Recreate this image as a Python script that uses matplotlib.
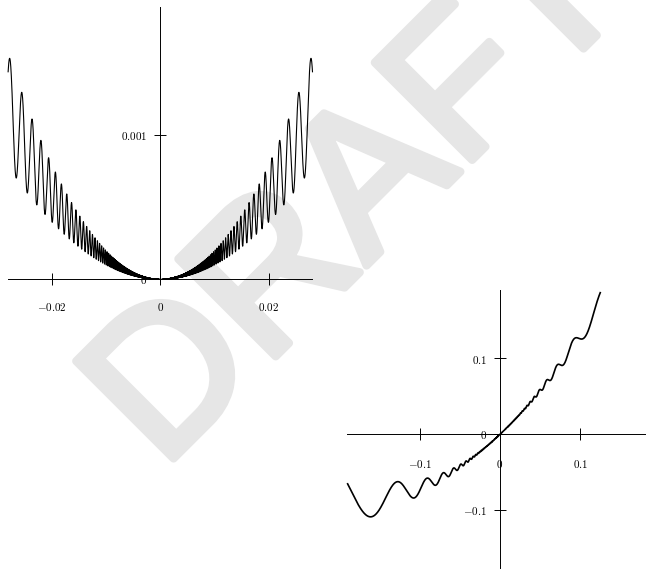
import numpy as np
import matplotlib
matplotlib.use("Agg")
import matplotlib.pyplot as plt
import matplotlib.patheffects as pe

plt.rcParams['mathtext.fontset'] = 'cm'

# --- left graph: f(x) = x^2 (1 + sin^2(1/x)) ---
x1_range = [-0.028, 0.028]
x1_limits = [-0.028, 0.028]
y1_limits = [0, 0.00189]
x1_ticks = [-0.02, 0, 0.02]
x1_labels = [r'$-0.02$', r'$0$', r'$0.02$']
y1_ticks = [0, 0.001]
y1_labels = [r'$0$', r'$0.001$']

# --- right graph: g(x) = x + 2x^2 + 2x^2 sin^2(1/x) ---
x2_range = [-0.19, 0.125]
x2_limits = [-0.1908, 0.182]
y2_limits = [-0.176, 0.19]
x2_ticks = [-0.1, 0, 0.1]
x2_labels = [r'$-0.1$', r'$0$', r'$0.1$']
y2_ticks = [-0.1, 0, 0.1]
y2_labels = [r'$-0.1$', r'$0$', r'$0.1$']


def f1(x):
    return x**2 * (1 + np.sin(1 / x)**2)


def f2(x):
    return x + 2 * x**2 + 2 * x**2 * np.sin(1 / x)**2


W, H = 646, 579
fig = plt.figure(figsize=(W / 100, H / 100), dpi=100)
fig.patch.set_facecolor('white')


def add_axes_px(origin, sx, sy, xlim, ylim):
    # origin in pixels (from top-left), sx/sy in pixels per data unit
    left = origin[0] + xlim[0] * sx
    right = origin[0] + xlim[1] * sx
    top = origin[1] - ylim[1] * sy
    bottom = origin[1] - ylim[0] * sy
    return fig.add_axes([left / W, 1 - bottom / H, (right - left) / W, (bottom - top) / H])


def style_axes(ax, xlim, ylim, xticks, xlabels, yticks, ylabels, xpad, ypad):
    ax.set_xlim(xlim)
    ax.set_ylim(ylim)
    ax.set_facecolor('none')
    ax.spines['top'].set_visible(False)
    ax.spines['right'].set_visible(False)
    ax.spines['left'].set_position(('data', 0))
    ax.spines['bottom'].set_position(('data', 0))
    for s in ['left', 'bottom']:
        ax.spines[s].set_linewidth(0.7)
    ax.set_xticks(xticks, xlabels)
    ax.set_yticks(yticks, ylabels)
    ax.tick_params(direction='inout', length=8.6, width=0.7, labelsize=8)
    ax.tick_params(axis='x', pad=xpad)
    ax.tick_params(axis='y', pad=ypad)


ax1 = add_axes_px((160.3, 279.3), 5435, 144000, x1_limits, y1_limits)
style_axes(ax1, x1_limits, y1_limits, x1_ticks, x1_labels, y1_ticks, y1_labels, 11, 5)
x1 = np.linspace(x1_range[0], x1_range[1], 400000)
ax1.plot(x1, f1(x1), color='black', lw=0.8, clip_on=False)

ax2 = add_axes_px((500, 434.3), 802, 758, x2_limits, y2_limits)
style_axes(ax2, x2_limits, y2_limits, x2_ticks, x2_labels, y2_ticks, y2_labels, 13, 5)
x2 = np.linspace(x2_range[0], x2_range[1], 200000)
ax2.plot(x2, f2(x2), color='black', lw=1.2, clip_on=False)

# watermark behind both graphs, anchored at the left end of its baseline
fig.text(162 / W, 1 - 470 / H, 'DRAFT', rotation=45, rotation_mode='anchor',
         fontsize=144, family='Liberation Sans', color='0.9',
         ha='left', va='baseline', zorder=-1,
         path_effects=[pe.withStroke(linewidth=6, foreground='0.9',
                                     joinstyle='round', capstyle='round')])

fig.savefig('out.png', dpi=100)
